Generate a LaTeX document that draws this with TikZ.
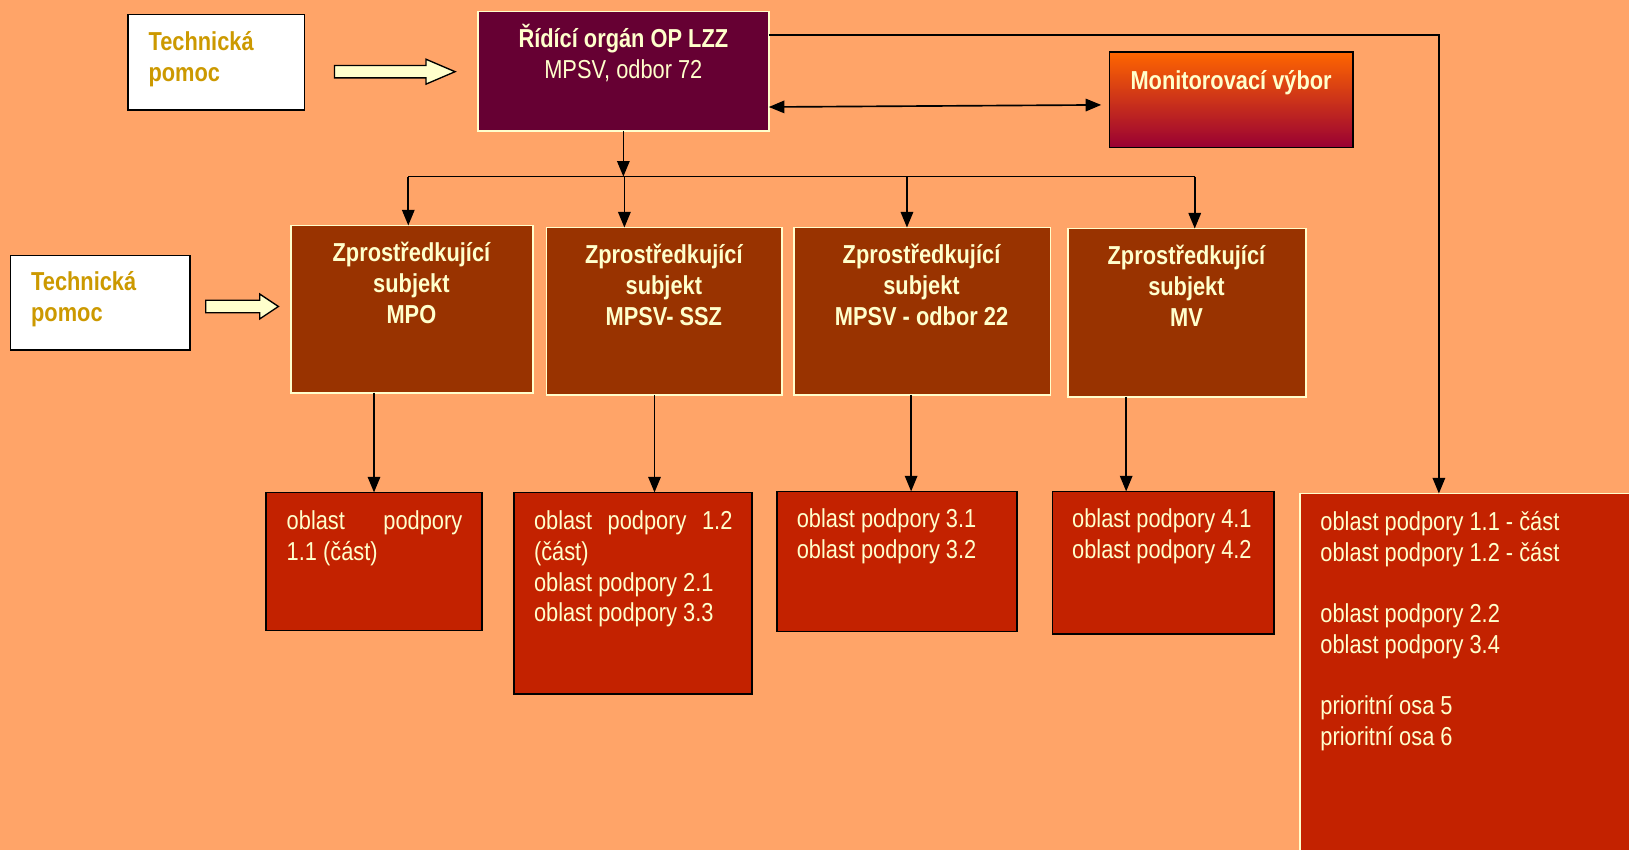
\documentclass[tikz,border=0pt]{standalone}
\usepackage{fontspec}
\setmainfont{Liberation Sans}[FakeStretch=0.84]
\usetikzlibrary{arrows.meta}
\definecolor{bg}{HTML}{FFA468}
\definecolor{cream}{HTML}{FFFFCC}
\definecolor{gold}{HTML}{CC9900}
\definecolor{rocol}{HTML}{660033}
\definecolor{zscol}{HTML}{993300}
\definecolor{opcol}{HTML}{C32200}
\definecolor{mvtop}{HTML}{FF6600}
\definecolor{mvbot}{HTML}{990033}
\tikzset{
  boxx/.style={anchor=north west, inner sep=0pt, outer sep=0pt, line width=1.6pt},
  txt/.style={inner sep=0pt, outer sep=0pt, font=\fontsize{25pt}{29.5pt}\selectfont},
  btxt/.style={txt, font=\fontsize{25pt}{29.5pt}\selectfont\bfseries},
  wtxt/.style={txt, text=cream},
  wbtxt/.style={btxt, text=cream},
  blockarrow/.style={fill=cream, draw=black, line width=1.3pt, line join=miter},
  conn/.style={line width=1.6pt, draw=black},
}
\newcommand\fl{\rule{0pt}{25pt}}
\begin{document}
\begin{tikzpicture}[x=1pt,y=-1pt, >={Triangle[width=12pt,length=15pt]}]
\clip (0,0) rectangle (1568,818);
\fill[bg] (0,0) rectangle (1568,818);

% boxes
\node[boxx, fill=white, draw=black, minimum width=170pt, minimum height=92pt] (tp1) at (123,14) {};
\node[boxx, fill=rocol, draw=cream, minimum width=280pt, minimum height=115pt] (ro) at (460,11) {};
\node[boxx, top color=mvtop, bottom color=mvbot, draw=black, minimum width=234pt, minimum height=92pt] (mv) at (1068,50) {};
\node[boxx, fill=white, draw=black, minimum width=173pt, minimum height=91pt] (tp2) at (10,246) {};
\node[boxx, fill=zscol, draw=cream, minimum width=233pt, minimum height=161pt] (z1) at (280,217) {};
\node[boxx, fill=zscol, draw=cream, minimum width=227pt, minimum height=161pt] (z2) at (526,219) {};
\node[boxx, fill=zscol, draw=cream, minimum width=247pt, minimum height=161pt] (z3) at (764,219) {};
\node[boxx, fill=zscol, draw=cream, minimum width=229pt, minimum height=162pt] (z4) at (1028,220) {};
\node[boxx, fill=opcol, draw=black, minimum width=208pt, minimum height=133pt] (b1) at (256,474) {};
\node[boxx, fill=opcol, draw=black, minimum width=229pt, minimum height=194pt] (b2) at (495,474) {};
\node[boxx, fill=opcol, draw=black, minimum width=231pt, minimum height=135pt] (b3) at (748,473) {};
\node[boxx, fill=opcol, draw=black, minimum width=213pt, minimum height=137pt] (b4) at (1013,473) {};
\node[boxx, fill=opcol, draw=cream, minimum width=340pt, minimum height=360pt] (br) at (1251,475) {};

% texts
\node[btxt, anchor=north west, align=left, text=gold] (tp1t) at (143,24) {\fl Technická\\pomoc};
\node[btxt, anchor=north west, align=left, text=gold] (tp2t) at (30,255) {\fl Technická\\pomoc};
\node[wtxt, anchor=north, align=center] (rot) at (600,21) {\fl{\bfseries Řídící orgán OP LZZ}\\MPSV, odbor 72};
\node[wbtxt, anchor=north, align=center] (mvt) at (1185,61) {\fl Monitorovací výbor};
\node[wbtxt, anchor=north, align=center] (z1t) at (396,227) {\fl Zprostředkující\\subjekt\\MPO};
\node[wbtxt, anchor=north, align=center] (z2t) at (639,229) {\fl Zprostředkující\\subjekt\\MPSV- SSZ};
\node[wbtxt, anchor=north, align=center] (z3t) at (887,229) {\fl Zprostředkující\\subjekt\\MPSV - odbor 22};
\node[wbtxt, anchor=north, align=center] (z4t) at (1142,230) {\fl Zprostředkující\\subjekt\\MV};
\node[wtxt, anchor=north west, align=left] (b1t) at (276,485) {\fl\makebox[169pt]{oblast\hfill podpory}\\1.1 (část)};
\node[wtxt, anchor=north west, align=left] (b2t) at (514,485) {\fl\makebox[191pt]{oblast\hfill podpory\hfill 1.2}\\(část)\\oblast podpory 2.1\\oblast podpory 3.3};
\node[wtxt, anchor=north west, align=left] (b3t) at (767,483) {\fl oblast podpory 3.1\\oblast podpory 3.2};
\node[wtxt, anchor=north west, align=left] (b4t) at (1032,483) {\fl oblast podpory 4.1\\oblast podpory 4.2};
\node[wtxt, anchor=north west, align=left] (brt) at (1271,486) {\fl oblast podpory 1.1 - část\\oblast podpory 1.2 - část\\[29.5pt]oblast podpory 2.2\\oblast podpory 3.4\\[29.5pt]prioritní osa 5\\prioritní osa 6};

% block arrows
\draw[blockarrow] (322,63) -- (410,63) -- (410,57) -- (438,69) -- (410,81) -- (410,75) -- (322,75) -- cycle;
\draw[blockarrow] (198,289) -- (250,289) -- (250,283) -- (268,295) -- (250,307) -- (250,301) -- (198,301) -- cycle;

% connectors
\coordinate (bus) at (600,170);
\coordinate (j1) at (393,170);
\coordinate (j2) at (601,170);
\coordinate (j3) at (873,170);
\coordinate (j4) at (1150,170);
\coordinate (roR) at (740,34);
\coordinate (corner) at (1385,34);
\coordinate (mvL) at (1060,101);
\coordinate (a1) at (360,0);
\coordinate (a2) at (630,0);
\coordinate (a3) at (877,0);
\coordinate (a4) at (1084,0);

\draw[conn, ->] (ro.south -| bus) -- (bus);
\draw[conn] (j1) -- (j4);
\draw[conn, ->] (j1) -- (j1 |- z1.north);
\draw[conn, ->] (j2) -- (j2 |- z2.north);
\draw[conn, ->] (j3) -- (j3 |- z3.north);
\draw[conn, ->] (j4) -- (j4 |- z4.north);
\draw[conn, <->] (ro.east |- 0,103) -- (mvL);
\draw[conn, ->] (roR) -- (corner) -- (corner |- br.north);
\draw[conn, ->] (z1.south -| a1) -- (b1.north -| a1);
\draw[conn, ->] (z2.south -| a2) -- (b2.north -| a2);
\draw[conn, ->] (z3.south -| a3) -- (b3.north -| a3);
\draw[conn, ->] (z4.south -| a4) -- (b4.north -| a4);
\end{tikzpicture}
\end{document}
